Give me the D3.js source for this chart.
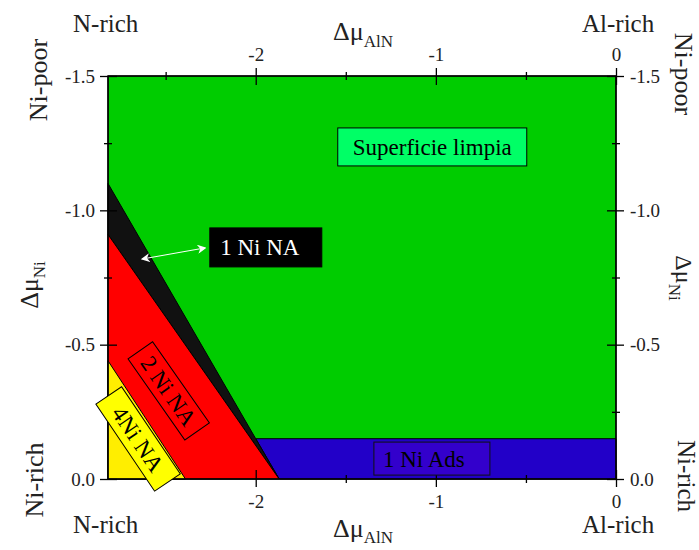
<!DOCTYPE html>
<html><head><meta charset="utf-8">
<script src="https://cdn.jsdelivr.net/npm/d3@7"></script>
<style>body{margin:0;background:#fff}svg{display:block}text{font-family:"Liberation Serif","Times New Roman",serif}</style>
</head><body>
<script>
// ---- data ----
const xDomain = [-2.82, 0];
const yDomain = [0, -1.5];
const xMajorTicks = [-2, -1, 0];
const xMinorTicks = [-2.5, -1.5, -0.5];
const yMajorTicks = [-1.5, -1.0, -0.5, 0.0];
const yMinorTicks = [-1.25, -0.75, -0.25];
const cleanSurface = [[-2.82, -1.5], [0, -1.5], [0, 0], [-2.82, 0]];
const ni1Ads = [[-2.0, -0.15], [0, -0.15], [0, 0], [-1.87, 0]];
const ni1NA = [[-2.82, -1.1], [-2.0, -0.15], [-1.87, 0], [-2.82, -0.91]];
const ni2NA = [[-2.82, -0.91], [-1.87, 0], [-2.82, 0]];
const ni4NA = [[-2.82, -0.44], [-2.39, 0], [-2.82, 0]];
const regionLabels = ["Superficie limpia", "1 Ni NA", "1 Ni Ads", "2 Ni NA", "4Ni NA"];
const labelAnchors = [[-1.02, -1.236], [-1.944, -0.862], [-1.022, -0.076], [-2.483, -0.328], [-2.653, -0.149]];
const arrowEnds = [[-2.628, -0.819], [-2.283, -0.860]];

const W = 699, H = 550;
const FONT = '"Liberation Serif","Times New Roman",serif';
const svg = d3.select("body").append("svg").attr("width", W).attr("height", H);
const x = d3.scaleLinear().domain(xDomain).range([108, 616]);
const y = d3.scaleLinear().domain(yDomain).range([479, 76]);
const line = d3.line().x(d => x(d[0])).y(d => y(d[1]));

const regions = [
  {pts: cleanSurface, fill: "#00cc00"},
  {pts: ni1Ads, fill: "#2200c8"},
  {pts: ni1NA, fill: "#111111"},
  {pts: ni2NA, fill: "#ff0000"},
  {pts: ni4NA, fill: "#ffee00"}
];
svg.append("g").selectAll("path").data(regions).join("path")
  .attr("d", d => line(d.pts) + "Z")
  .attr("fill", d => d.fill)
  .attr("stroke", "#000").attr("stroke-width", 1).attr("stroke-linejoin", "miter");

// frame
svg.append("rect").attr("x", 108).attr("y", 76).attr("width", 508).attr("height", 403)
  .attr("fill", "none").attr("stroke", "#000").attr("stroke-width", 1.5);

// axes
function styleAxis(g) {
  g.attr("font-family", FONT);
  g.select(".domain").remove();
  g.selectAll("line").attr("stroke", "#000").attr("stroke-width", 1.3);
  g.selectAll("text").attr("font-size", 19).attr("fill", "#222").attr("font-family", FONT);
}
const fmtX = d => d3.format("d")(d).replace("−", "-");
const fmtY = d => d3.format(".1f")(d).replace("−", "-");

// minor ticks
function minor(axisFn, scale, ticks, tr) {
  const horiz = axisFn === d3.axisTop || axisFn === d3.axisBottom;
  const inward = (axisFn === d3.axisTop || axisFn === d3.axisLeft) ? 4 : -4;
  svg.append("g").attr("transform", tr)
    .call(axisFn(scale).tickValues(ticks).tickSize(4).tickFormat(""))
    .call(g => { g.select(".domain").remove(); g.selectAll("line").attr("stroke", "#000").attr("stroke-width", 1.3); })
    .selectAll("line").attr(horiz ? "y1" : "x1", inward);
}
minor(d3.axisTop, x, xMinorTicks, "translate(0,76)");
minor(d3.axisBottom, x, xMinorTicks, "translate(0,479)");
minor(d3.axisLeft, y, yMinorTicks, "translate(108,0)");
minor(d3.axisRight, y, yMinorTicks, "translate(616,0)");

const gt = svg.append("g").attr("transform", "translate(0,76)")
  .call(d3.axisTop(x).tickValues(xMajorTicks).tickSize(8).tickPadding(7).tickFormat(fmtX)).call(styleAxis);
gt.selectAll("line").attr("y1", 9);
const gb = svg.append("g").attr("transform", "translate(0,479)")
  .call(d3.axisBottom(x).tickValues(xMajorTicks).tickSize(8).tickPadding(8).tickFormat(fmtX)).call(styleAxis);
gb.selectAll("line").attr("y1", -9);
const gl = svg.append("g").attr("transform", "translate(108,0)")
  .call(d3.axisLeft(y).tickValues(yMajorTicks).tickSize(8).tickPadding(5).tickFormat(fmtY)).call(styleAxis);
gl.selectAll("line").attr("x1", 9);
const gr = svg.append("g").attr("transform", "translate(616,0)")
  .call(d3.axisRight(y).tickValues(yMajorTicks).tickSize(8).tickPadding(6).tickFormat(fmtY)).call(styleAxis);
gr.selectAll("line").attr("x1", -9);

// corner / side labels
const txt = (s, px, py, size, anchor, rot) => {
  const t = svg.append("text").attr("font-size", size).attr("fill", "#222")
    .attr("text-anchor", anchor || "start").text(s);
  if (rot) t.attr("transform", `translate(${px},${py}) rotate(${rot})`);
  else t.attr("x", px).attr("y", py);
  return t;
};
txt("N-rich", 73, 32, 25);
txt("Al-rich", 582, 32, 25);
txt("N-rich", 73, 533, 25);
txt("Al-rich", 582, 533, 25);
txt("Ni-poor", 47, 80, 26, "middle", -90);
txt("Ni-rich", 43, 480, 26, "middle", -90);
txt("Ni-poor", 675, 74, 26, "middle", 90);
txt("Ni-rich", 678, 476, 25, "middle", 90);

function deltaMu(px, py, sub, rot, dy, size) {
  const t = svg.append("text").attr("fill", "#222").attr("font-size", size || 26)
    .attr("text-anchor", rot ? "middle" : "start");
  if (rot) t.attr("transform", `translate(${px},${py}) rotate(${rot})`);
  else t.attr("x", px).attr("y", py);
  t.append("tspan").text("Δμ");
  t.append("tspan").attr("font-size", 17).attr("dy", dy).text(sub);
}
deltaMu(333, 40, "AlN", 0, 7);
deltaMu(333, 537, "AlN", 0, 6);
deltaMu(38, 285, "Ni", -90, 7);
deltaMu(676, 278, "Ni", 90, 7, 24);

// region label boxes
const boxes = [
  {w: 189, h: 38, fill: "#00ff66", color: "#000", rot: 0, size: 23, stroke: "#000", dx: 0},
  {w: 112, h: 39, fill: "#000", color: "#fff", rot: 0, size: 23, stroke: "#000", dx: -6},
  {w: 116, h: 33, fill: "#3300cc", color: "#000", rot: 0, size: 23, stroke: "#111", dx: -8},
  {w: 99, h: 30, fill: "#ff0000", color: "#000", rot: 55, size: 23, stroke: "#000", dx: 0},
  {w: 105, h: 31, fill: "#ffff00", color: "#000", rot: 56, size: 23, stroke: "#000", dx: 0}
];
const lg = svg.append("g").selectAll("g").data(boxes).join("g")
  .attr("transform", (d, i) => `translate(${x(labelAnchors[i][0])},${y(labelAnchors[i][1])}) rotate(${d.rot})`);
lg.append("rect").attr("x", d => -d.w / 2).attr("y", d => -d.h / 2)
  .attr("width", d => d.w).attr("height", d => d.h)
  .attr("fill", d => d.fill).attr("stroke", d => d.stroke).attr("stroke-width", 1);
lg.append("text").attr("x", d => d.dx).attr("y", 0).attr("dy", "0.35em")
  .attr("text-anchor", "middle").attr("font-size", d => d.size).attr("fill", d => d.color)
  .text((d, i) => regionLabels[i]);

// double arrow
const defs = svg.append("defs");
defs.append("marker").attr("id", "ah").attr("viewBox", "0 0 10 10").attr("refX", 8).attr("refY", 5)
  .attr("markerWidth", 9).attr("markerHeight", 9).attr("orient", "auto-start-reverse")
  .attr("markerUnits", "userSpaceOnUse")
  .append("path").attr("d", "M0,0 L10,5 L0,10 L3,5 Z").attr("fill", "#fff");
svg.append("line")
  .attr("x1", x(arrowEnds[0][0])).attr("y1", y(arrowEnds[0][1]))
  .attr("x2", x(arrowEnds[1][0])).attr("y2", y(arrowEnds[1][1]))
  .attr("stroke", "#fff").attr("stroke-width", 1)
  .attr("marker-start", "url(#ah)").attr("marker-end", "url(#ah)");
</script>
</body></html>
